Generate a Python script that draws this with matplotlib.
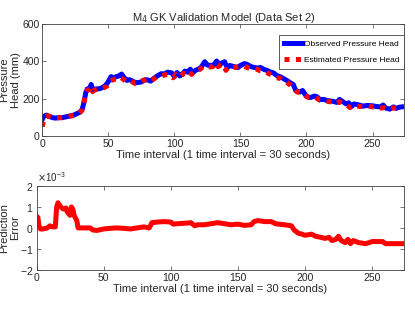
import numpy as np
from matplotlib import pyplot as plt

plt.rcParams['font.family'] = ['Liberation Sans', 'DejaVu Sans']

# pressure head (mm)
t_obs = [0, 1, 3, 5, 8, 10, 13, 15, 18, 20, 23, 25, 28, 30, 31, 32, 33, 34, 36, 37,
         38, 40, 43, 45, 48, 50, 52, 54, 56, 58, 60, 62, 64, 66, 68, 70, 72, 75, 78,
         80, 82, 85, 88, 90, 92, 95, 98, 100, 102, 104, 106, 108, 110, 112, 114, 116,
         118, 120, 123, 125, 128, 130, 132, 134, 136, 138, 140, 142, 145, 148, 150,
         153, 155, 158, 160, 163, 165, 168, 170, 173, 175, 178, 180, 183, 185, 188,
         190, 192, 195, 197, 200, 203, 206, 208, 210, 213, 216, 220, 223, 225, 228,
         230, 232, 234, 236, 240, 243, 246, 250, 253, 256, 258, 260, 263, 266, 268,
         270, 272]
head_obs = [90, 105, 112, 106, 98, 96, 99, 98, 103, 106, 110, 116, 126, 140, 165, 200,
            235, 252, 258, 276, 245, 252, 253, 258, 272, 292, 318, 312, 318, 322, 332,
            312, 298, 302, 296, 288, 286, 290, 302, 300, 294, 312, 326, 334, 332, 342,
            338, 318, 340, 322, 332, 348, 342, 358, 340, 352, 358, 366, 398, 380, 378,
            382, 402, 378, 392, 398, 366, 378, 372, 366, 378, 388, 384, 372, 368, 364,
            368, 356, 352, 342, 338, 322, 318, 306, 298, 284, 276, 242, 236, 244, 212,
            206, 214, 210, 196, 196, 190, 186, 180, 196, 182, 172, 178, 158, 172, 166,
            160, 164, 162, 158, 156, 166, 150, 144, 156, 148, 154, 156]

t_est = [0, 1, 2, 4, 7, 10, 13, 16, 19, 22, 25, 28, 30, 31, 32, 33, 34, 36, 37, 38,
         40, 43, 46, 49, 51, 53, 55, 57, 59, 61, 63, 65, 67, 70, 73, 76, 79, 81, 84,
         87, 90, 93, 96, 99, 101, 103, 105, 107, 109, 111, 113, 115, 117, 119, 122,
         124, 127, 129, 131, 133, 135, 137, 139, 141, 144, 147, 150, 152, 154, 157,
         160, 162, 165, 168, 171, 174, 177, 180, 182, 185, 188, 191, 193, 196, 198,
         201, 204, 207, 210, 213, 216, 219, 222, 225, 228, 231, 233, 235, 238, 241,
         244, 247, 250, 253, 256, 259, 262, 265, 268, 270, 272]
head_est = [50, 90, 102, 108, 100, 96, 98, 100, 104, 108, 114, 122, 138, 160, 195, 228,
            246, 250, 262, 238, 248, 252, 256, 268, 296, 300, 304, 306, 316, 306, 294,
            290, 296, 282, 288, 298, 302, 292, 304, 318, 322, 328, 330, 312, 330, 318,
            322, 336, 330, 346, 330, 348, 350, 356, 372, 374, 370, 372, 392, 372, 380,
            384, 352, 370, 366, 370, 374, 376, 370, 362, 360, 358, 350, 348, 336, 326,
            312, 310, 298, 288, 272, 252, 236, 230, 226, 208, 202, 206, 192, 190, 186,
            182, 172, 184, 174, 164, 152, 164, 160, 158, 158, 160, 156, 154, 150, 152,
            144, 150, 150, 152, 152]

# prediction error (x 1e-3)
t_err = [0, 1, 2, 3, 5, 8, 10, 12, 14, 15, 16, 18, 20, 22, 23, 25, 26, 27, 28, 30,
         31, 35, 40, 42, 45, 50, 55, 60, 65, 70, 75, 80, 84, 86, 90, 95, 100, 102,
         105, 110, 115, 118, 120, 125, 130, 135, 140, 145, 150, 155, 160, 162, 165,
         170, 175, 178, 180, 185, 190, 192, 195, 198, 200, 205, 208, 212, 215, 218,
         220, 223, 225, 227, 230, 232, 234, 236, 240, 245, 248, 250, 255, 258, 260,
         265, 270, 272]
err = [0.56, 0.5, 0.03, -0.05, -0.05, 0.0, 0.1, 0.05, 0.05, 1.0, 1.2, 1.0, 0.9, 0.95,
       0.75, 0.6, 1.0, 0.9, 0.6, 0.35, 0.0, 0.0, 0.0, -0.1, -0.12, -0.05, -0.02, 0.0,
       -0.02, -0.05, 0.0, 0.05, 0.0, 0.25, 0.28, 0.3, 0.28, 0.18, 0.2, 0.22, 0.25, 0.1,
       0.15, 0.15, 0.2, 0.25, 0.2, 0.15, 0.18, 0.12, 0.15, 0.3, 0.35, 0.3, 0.3, 0.2,
       0.18, 0.15, 0.1, -0.1, -0.25, -0.3, -0.35, -0.3, -0.4, -0.45, -0.5, -0.45, -0.6,
       -0.55, -0.4, -0.6, -0.7, -0.55, -0.75, -0.6, -0.7, -0.75, -0.7, -0.65, -0.65,
       -0.65, -0.75, -0.75, -0.75, -0.75]

GRAY = '#262626'
AXC = '#404040'


def style(ax):
    ax.tick_params(direction='in', top=True, right=True, length=3, width=0.5,
                   labelsize=7.5, colors=AXC, labelcolor=GRAY, pad=2)
    for s in ax.spines.values():
        s.set_linewidth(0.6)
        s.set_color(AXC)


fig = plt.figure(figsize=(4.15, 3.12), dpi=100)
ax1 = fig.add_axes([0.102, 0.564, 0.872, 0.359])
ax2 = fig.add_axes([0.088, 0.135, 0.886, 0.269])

ax1.plot(t_obs, head_obs, color='blue', lw=3.6, label='Observed Pressure Head')
ax1.plot(t_est, head_est, color='red', lw=3.6, ls=(0, (1, 1.3)),
         label='Estimated Pressure Head')
ax1.set_xlim(0, 274)
ax1.set_ylim(0, 600)
ax1.set_xticks([0, 50, 100, 150, 200, 250])
ax1.set_yticks([0, 200, 400, 600])
style(ax1)
ax1.set_title('M$_4$ GK Validation Model (Data Set 2)', fontsize=8, color=GRAY, pad=2)
ax1.set_xlabel('Time interval (1 time interval = 30 seconds)', fontsize=8,
               color=GRAY, labelpad=1)
ax1.set_ylabel('Pressure\nHead (mm)', fontsize=8, color=GRAY, labelpad=1)
leg = ax1.legend(loc='upper right', bbox_to_anchor=(1.0, 0.9), fontsize=6,
                 fancybox=False, framealpha=1, borderpad=0.6, handlelength=2.2,
                 handletextpad=0.15, borderaxespad=0, labelspacing=1.0)
leg.get_frame().set_edgecolor(AXC)
leg.get_frame().set_linewidth(0.6)

ax2.plot(t_err, np.array(err) * 1e-3, color='red', lw=3.6)
ax2.set_xlim(0, 274)
ax2.set_ylim(-2e-3, 2e-3)
ax2.set_xticks([0, 50, 100, 150, 200, 250])
ax2.set_yticks([-2e-3, -1e-3, 0, 1e-3, 2e-3])
ax2.ticklabel_format(axis='y', style='sci', scilimits=(0, 0), useMathText=True)
ax2.yaxis.get_offset_text().set_fontsize(7)
ax2.yaxis.get_offset_text().set_color(GRAY)
style(ax2)
ax2.set_xlabel('Time interval (1 time interval = 30 seconds)', fontsize=8,
               color=GRAY, labelpad=1)
ax2.set_ylabel('Prediction\nError', fontsize=8, color=GRAY, labelpad=0)

fig.savefig('out.png', dpi=100)
